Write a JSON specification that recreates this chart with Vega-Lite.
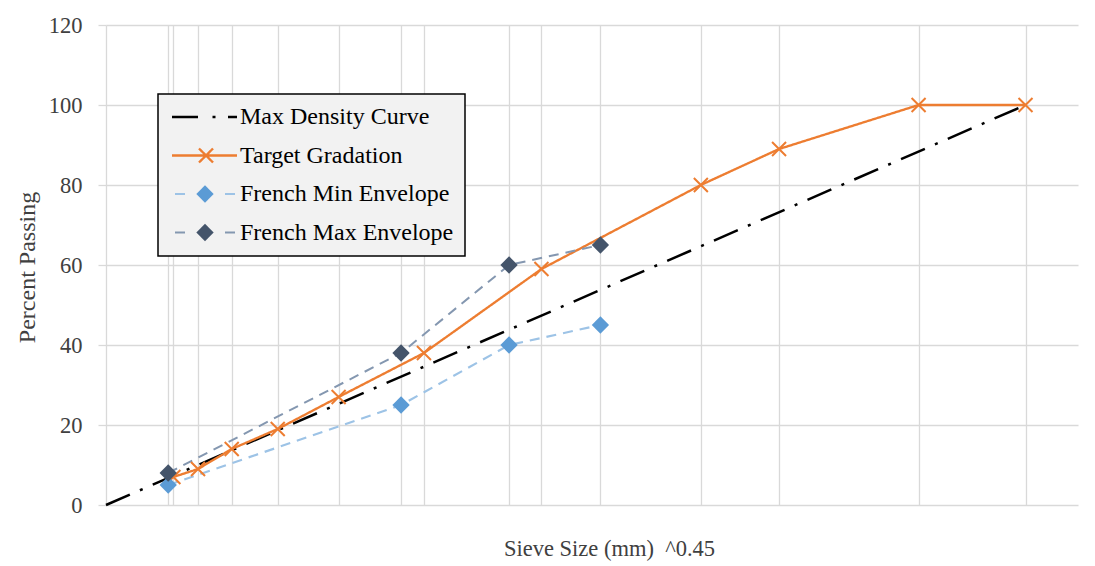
{
  "$schema": "https://vega.github.io/schema/vega-lite/v6.json",
  "width": 972,
  "height": 480,
  "autosize": {"type": "none"},
  "padding": {"left": 106, "top": 25, "right": 17, "bottom": 61},
  "background": "#ffffff",
  "config": {
    "font": "Liberation Serif",
    "view": {"stroke": null},
    "axis": {"titleFontWeight": "normal", "labelFont": "Liberation Serif", "titleFont": "Liberation Serif"}
  },
  "data": {
    "values": [
      {"series": "Max Density Curve", "x": 0, "y": 0},
      {"series": "Max Density Curve", "x": 4.257, "y": 100},
      {"series": "Target Gradation", "x": 0.312, "y": 7},
      {"series": "Target Gradation", "x": 0.426, "y": 9},
      {"series": "Target Gradation", "x": 0.582, "y": 14},
      {"series": "Target Gradation", "x": 0.795, "y": 19},
      {"series": "Target Gradation", "x": 1.077, "y": 27},
      {"series": "Target Gradation", "x": 1.472, "y": 38},
      {"series": "Target Gradation", "x": 2.016, "y": 59},
      {"series": "Target Gradation", "x": 2.754, "y": 80},
      {"series": "Target Gradation", "x": 3.116, "y": 89},
      {"series": "Target Gradation", "x": 3.762, "y": 100},
      {"series": "Target Gradation", "x": 4.257, "y": 100},
      {"series": "French Min Envelope", "x": 0.288, "y": 5},
      {"series": "French Min Envelope", "x": 1.366, "y": 25},
      {"series": "French Min Envelope", "x": 1.866, "y": 40},
      {"series": "French Min Envelope", "x": 2.289, "y": 45},
      {"series": "French Max Envelope", "x": 0.288, "y": 8},
      {"series": "French Max Envelope", "x": 1.366, "y": 38},
      {"series": "French Max Envelope", "x": 1.866, "y": 60},
      {"series": "French Max Envelope", "x": 2.289, "y": 65}
    ]
  },
  "encoding": {
    "x": {
      "field": "x", "type": "quantitative",
      "scale": {"domain": [0, 4.5], "nice": false, "zero": false},
      "axis": {
        "title": "Sieve Size (mm) \u00a0^0.45",
        "values": [0.288, 0.312, 0.426, 0.582, 0.795, 1.077, 1.366, 1.472, 1.866, 2.016, 2.289, 2.754, 3.116, 3.762, 4.257],
        "labels": false, "ticks": false, "domain": false,
        "grid": true, "gridColor": "#d9d9d9", "gridWidth": 1.3,
        "titleFontSize": 22.5, "titleColor": "#404040",
        "titleX": 503, "titleY": 43, "titleBaseline": "middle", "titleAlign": "center", "titleAnchor": "middle"
      }
    },
    "y": {
      "field": "y", "type": "quantitative",
      "scale": {"domain": [0, 120], "nice": false},
      "axis": {
        "title": "Percent Passing",
        "values": [0, 20, 40, 60, 80, 100, 120],
        "grid": true, "gridColor": "#d9d9d9", "gridWidth": 1.3,
        "domain": true, "domainColor": "#d9d9d9", "domainWidth": 1.3,
        "ticks": true, "tickColor": "#d9d9d9", "tickSize": 8, "tickWidth": 1.3,
        "labelPadding": 16, "labelFontSize": 22.5, "labelColor": "#404040",
        "titleFontSize": 24, "titleColor": "#404040",
        "titleX": -79, "titleY": 242, "titleAngle": 270, "titleBaseline": "middle", "titleAlign": "center"
      }
    }
  },
  "layer": [
    {
      "mark": {"type": "line", "strokeCap": "butt"},
      "encoding": {
        "stroke": {
          "field": "series", "type": "nominal",
          "scale": {
            "domain": ["Max Density Curve", "Target Gradation", "French Min Envelope", "French Max Envelope"],
            "range": ["#000000", "#ED7D31", "#9DC3E6", "#8497B0"]
          },
          "legend": {
            "title": null, "orient": "none", "legendX": 52, "legendY": 69,
            "fillColor": "#f2f2f2", "strokeColor": "#000000", "padding": 11,
            "labelFont": "Liberation Serif", "labelFontSize": 24, "labelColor": "#000000", "labelLimit": 400,
            "symbolSize": 100, "symbolStrokeWidth": 2, "symbolOffset": 25, "labelOffset": 22, "rowPadding": 14.5,
            "encode": {
              "legend": {"update": {"strokeWidth": {"value": 1.5}}},
              "symbols": {"update": {
                "shape": {"signal": "datum.value === 'Max Density Curve' ? 'M-6.8,0H-1.2M1.3,0H1.9M4.4,0H6.2' : datum.value === 'Target Gradation' ? 'M-6.8,0H6.2M-1.4,-1.4L1.4,1.4M-1.4,1.4L1.4,-1.4' : 'M-6.2,0H-3.4M3.8,0H6.2'"},
                "fill": {"value": "transparent"},
                "strokeWidth": {"signal": "datum.value === 'Max Density Curve' ? 2.5 : 2"}
              }}
            }
          }
        },
        "strokeDash": {
          "field": "series", "type": "nominal",
          "scale": {
            "domain": ["Max Density Curve", "Target Gradation", "French Min Envelope", "French Max Envelope"],
            "range": [[26, 11, 3, 11], [1, 0], [10, 7], [10, 7]]
          },
          "legend": null
        },
        "strokeWidth": {
          "field": "series", "type": "nominal",
          "scale": {
            "domain": ["Max Density Curve", "Target Gradation", "French Min Envelope", "French Max Envelope"],
            "range": [2.5, 2, 2, 2]
          },
          "legend": null
        }
      }
    },
    {
      "transform": [{"filter": "datum.series === 'Target Gradation'"}],
      "mark": {"type": "point", "shape": "M-1,-1L1,1M-1,1L1,-1", "size": 196, "filled": false, "stroke": "#ED7D31", "strokeWidth": 2, "opacity": 1}
    },
    {
      "transform": [{"filter": "datum.series === 'French Min Envelope' || datum.series === 'French Max Envelope'"}],
      "mark": {"type": "point", "shape": "diamond", "size": 300, "filled": true, "opacity": 1, "strokeWidth": 0},
      "encoding": {
        "fill": {
          "field": "series", "type": "nominal",
          "scale": {
            "domain": ["Max Density Curve ", "Target Gradation ", "French Min Envelope", "French Max Envelope"],
            "range": ["transparent", "transparent", "#5B9BD5", "#44546A"]
          },
          "legend": {
            "title": null, "orient": "none", "legendX": 52, "legendY": 69,
            "padding": 11,
            "labelFont": "Liberation Serif", "labelFontSize": 24, "labelColor": "#000000", "labelOpacity": 0, "labelLimit": 400,
            "labelExpr": "'\u00a0'",
            "symbolSize": 300, "symbolStrokeWidth": 0, "symbolOffset": 24, "labelOffset": 22, "rowPadding": 14.5
          }
        }
      }
    }
  ]
}
